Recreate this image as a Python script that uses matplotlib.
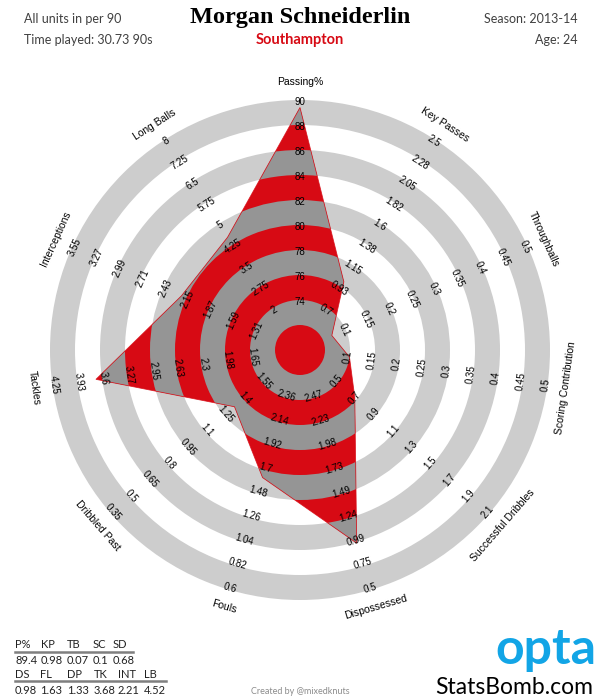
import numpy as np
import matplotlib
matplotlib.use("Agg")
import matplotlib.pyplot as plt
from matplotlib.patches import Polygon, Wedge

# radar data
categories = ["Passing%", "Key Passes", "Throughballs", "Scoring Contribution",
              "Successful Dribbles", "Dispossessed", "Fouls", "Dribbled Past",
              "Tackles", "Interceptions", "Long Balls"]
values = [89.4, 0.98, 0.07, 0.1, 0.68, 0.98, 1.63, 1.33, 3.68, 2.21, 4.52]

tick_labels = [
    ["74", "76", "78", "80", "82", "84", "86", "88", "90"],
    ["0.7", "0.93", "1.15", "1.38", "1.6", "1.82", "2.05", "2.28", "2.5"],
    ["0.1", "0.15", "0.2", "0.25", "0.3", "0.35", "0.4", "0.45", "0.5"],
    ["0.1", "0.15", "0.2", "0.25", "0.3", "0.35", "0.4", "0.45", "0.5"],
    ["0.5", "0.7", "0.9", "1.1", "1.3", "1.5", "1.7", "1.9", "2.1"],
    ["2.47", "2.23", "1.98", "1.73", "1.49", "1.24", "0.99", "0.75", "0.5"],
    ["2.36", "2.14", "1.92", "1.7", "1.48", "1.26", "1.04", "0.82", "0.6"],
    ["1.55", "1.4", "1.25", "1.1", "0.95", "0.8", "0.65", "0.5", "0.35"],
    ["1.65", "1.98", "2.3", "2.63", "2.95", "3.27", "3.6", "3.93", "4.25"],
    ["1.31", "1.59", "1.87", "2.15", "2.43", "2.71", "2.99", "3.27", "3.55"],
    ["2", "2.75", "3.5", "4.25", "5", "5.75", "6.5", "7.25", "8"],
]

# summary table under the radar
table_head1 = ["P%", "KP", "TB", "SC", "SD"]
table_vals1 = ["89.4", "0.98", "0.07", "0.1", "0.68"]
table_head2 = ["DS", "FL", "DP", "TK", "INT", "LB"]
table_vals2 = ["0.98", "1.63", "1.33", "3.68", "2.21", "4.52"]

player = "Morgan Schneiderlin"
team = "Southampton"
season = "Season: 2013-14"
age = "Age: 24"
minutes = "Time played: 30.73 90s"

RED = "#d70a14"
DARK = "#959595"
LIGHT = "#cdcdcd"
TXT = "#404040"

fig = plt.figure(figsize=(6, 7), dpi=100)
ax = fig.add_axes([0, 0, 1, 1])
ax.set_xlim(0, 600)
ax.set_ylim(700, 0)
ax.axis("off")

cx, cy = 300, 350
r0, band = 50, 25   # first tick ring and band width
n = len(categories)
angles = np.deg2rad(90 - np.arange(n) * 360 / n)


def to_radius(i, v):
    lo = float(tick_labels[i][0])
    hi = float(tick_labels[i][-1])
    return r0 + 8 * band * (v - lo) / (hi - lo)


def rot_for(a):
    r = np.rad2deg(a) - 90
    while r <= -90:
        r += 180
    while r > 90:
        r -= 180
    return r


# background rings
for k in range(5):
    ax.add_patch(Wedge((cx, cy), band * (2 * k + 2), 0, 360, width=band,
                       facecolor=LIGHT, edgecolor="none", zorder=1))

# player polygon
rad = [to_radius(i, v) for i, v in enumerate(values)]
pts = [(cx + r * np.cos(a), cy - r * np.sin(a)) for r, a in zip(rad, angles)]
poly = Polygon(pts, closed=True, facecolor=RED, edgecolor="none", zorder=2)
ax.add_patch(poly)
for k in range(5):
    w = Wedge((cx, cy), band * (2 * k + 2), 0, 360, width=band,
              facecolor=DARK, edgecolor="none", zorder=3)
    ax.add_patch(w)
    w.set_clip_path(poly)
ax.add_patch(Polygon(pts, closed=True, fill=False, edgecolor=RED,
                     linewidth=0.6, alpha=0.8, zorder=4))

# tick labels and axis names
for i, a in enumerate(angles):
    rot = rot_for(a)
    for k, lab in enumerate(tick_labels[i]):
        r = r0 + band * k - 2
        ax.text(cx + r * np.cos(a), cy - r * np.sin(a), lab, rotation=rot,
                ha="center", va="center", fontsize=7,
                family="Liberation Sans", color="black", zorder=5,
                rotation_mode="anchor")
    r = 268
    ax.text(cx + r * np.cos(a), cy - r * np.sin(a), categories[i],
            rotation=rot, ha="center", va="center", fontsize=7.5,
            family="Liberation Sans", color="black", rotation_mode="anchor")

# header
ax.text(24, 19, "All units in per 90", fontsize=9, family="Lato",
        color=TXT, va="center")
ax.text(24, 40, minutes, fontsize=9, family="Lato", color=TXT, va="center")
ax.text(578, 19, season, fontsize=9, family="Lato", color=TXT,
        va="center", ha="right")
ax.text(578, 40, age, fontsize=9, family="Lato", color=TXT,
        va="center", ha="right")
ax.text(300, 18, player, fontsize=17.5, family="Liberation Serif",
        weight="bold", ha="center", va="center")
ax.text(300, 40, team, fontsize=10.5, family="Lato", weight="bold",
        color=RED, ha="center", va="center")

# table
x1 = [15, 41, 67, 93, 113]
x2 = [15, 40, 67, 94, 118, 144]
tfont = dict(fontsize=8, family="Lato", color="#222222", va="center")
for x, h, v in zip(x1, table_head1, table_vals1):
    ax.text(x, 645, h, **tfont)
    ax.text(x, 660, v, **tfont)
for x, h, v in zip(x2, table_head2, table_vals2):
    ax.text(x, 675, h, **tfont)
    ax.text(x, 690, v, **tfont)
ax.plot([15, 133], [652, 652], color="#7f7f7f", linewidth=1.8)
ax.plot([15, 166], [681, 681], color="#7f7f7f", linewidth=1.8)

ax.text(300, 692, "Created by @mixedknuts", fontsize=6.5, family="Lato",
        color="#8c8c8c", ha="center", va="center")

# logos
ax.text(546, 650, "opta", fontsize=36, family="Lato", weight="bold",
        color="#12a5e6", ha="center", va="center")
ax.text(593, 688, "StatsBomb.com", fontsize=16.5, family="Lato",
        color="black", ha="right", va="center")

fig.savefig("out.png", dpi=100)
